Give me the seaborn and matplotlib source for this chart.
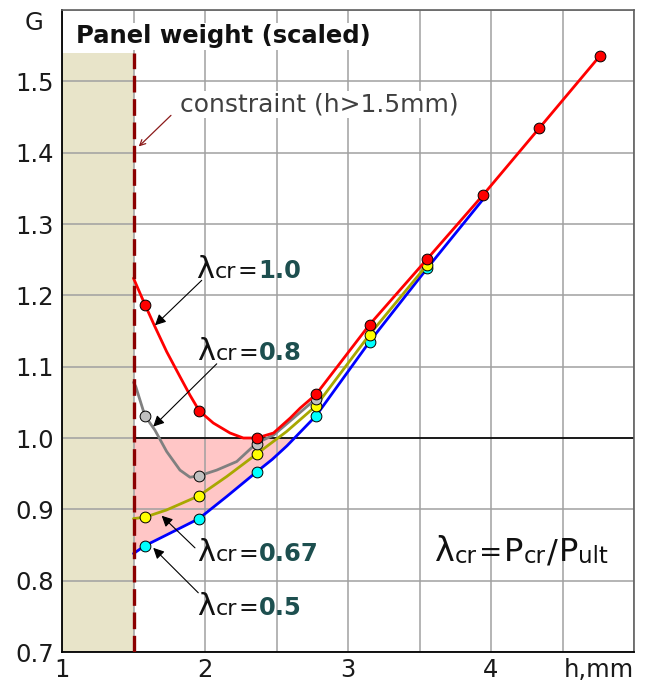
import numpy as np
import matplotlib
matplotlib.use("Agg")
import matplotlib.pyplot as plt
import matplotlib.transforms as mtransforms
import seaborn as sns

# ---------------- data ----------------
# curve lines (h in mm, G scaled)
red_line_x = [1.5, 1.58, 1.65, 1.732, 1.825, 1.895, 1.96, 2.058, 2.175, 2.268, 2.362, 2.479, 2.596, 2.666, 2.776, 3.151, 3.554, 3.946, 4.336, 4.763]
red_line_y = [1.224, 1.187, 1.156, 1.121, 1.086, 1.060, 1.038, 1.021, 1.007, 1.000, 1.0, 1.007, 1.028, 1.042, 1.061, 1.159, 1.251, 1.341, 1.434, 1.536]
gray_line_x = [1.5, 1.516, 1.58, 1.65, 1.732, 1.825, 1.895, 1.96, 2.082, 2.222, 2.362, 2.479, 2.596, 2.776]
gray_line_y = [1.078, 1.072, 1.031, 1.011, 0.981, 0.955, 0.945, 0.947, 0.955, 0.967, 0.993, 1.004, 1.024, 1.055]
olive_line_x = [1.5, 1.58, 1.73, 1.958, 2.152, 2.364, 2.57, 2.776, 3.151, 3.554]
olive_line_y = [0.887, 0.889, 0.899, 0.919, 0.946, 0.978, 1.009, 1.045, 1.145, 1.243]
blue_line_x = [1.5, 1.58, 1.73, 1.958, 2.152, 2.364, 2.47, 2.573, 2.776, 3.151, 3.554, 3.95]
blue_line_y = [0.838, 0.849, 0.864, 0.887, 0.918, 0.953, 0.970, 0.989, 1.031, 1.135, 1.238, 1.336]

# markers
red_pts_x = [1.58, 1.958, 2.364, 2.776, 3.151, 3.554, 3.946, 4.336, 4.763]
red_pts_y = [1.187, 1.038, 1.0, 1.061, 1.159, 1.251, 1.341, 1.434, 1.536]
gray_pts_x = [1.58, 1.958, 2.364, 2.776]
gray_pts_y = [1.031, 0.947, 0.992, 1.055]
yellow_pts_x = [1.58, 1.958, 2.364, 2.776, 3.151, 3.554]
yellow_pts_y = [0.889, 0.919, 0.978, 1.045, 1.145, 1.243]
cyan_pts_x = [1.58, 1.958, 2.364, 2.776, 3.151, 3.554]
cyan_pts_y = [0.849, 0.887, 0.953, 1.031, 1.135, 1.238]

lambda_values = ["1.0", "0.8", "0.67", "0.5"]
x_tick_labels = ["1", "", "2", "", "3", "", "4", "", ""]
y_tick_labels = ["0.7", "0.8", "0.9", "1.0", "1.1", "1.2", "1.3", "1.4", "1.5"]

h_min = 1.5          # constraint
shade_top = 1.54

# ---------------- style ----------------
sns.set_style("white")
FAM = ["DejaVu Sans"]
plt.rcParams["font.family"] = FAM

fig = plt.figure(figsize=(6.47, 6.83), dpi=100)
ax = fig.add_axes([62 / 647, 1 - 652 / 683, (634 - 62) / 647, (652 - 10) / 683])

ax.set_xlim(1, 5)
ax.set_ylim(0.7, 1.6)
ax.set_xticks(np.arange(1, 5.01, 0.5))
ax.set_xticklabels(x_tick_labels)
ax.set_yticks(np.arange(0.7, 1.61, 0.1))
ax.set_yticklabels(y_tick_labels + [""])
ax.tick_params(axis="both", labelsize=17.5, colors="#1a1a1a", length=4, width=1)
ax.tick_params(axis="y", length=0, pad=6)
ax.tick_params(axis="x", length=4, pad=0)
ax.set_axisbelow(True)
ax.grid(True, color="#a0a0a0", lw=1.1, zorder=0.5)
for s in ["left", "bottom"]:
    ax.spines[s].set_color("black")
    ax.spines[s].set_linewidth(1.3)
for s in ["top", "right"]:
    ax.spines[s].set_color("#606060")
    ax.spines[s].set_linewidth(1.2)

# shaded forbidden zone
ax.fill_between([1.0, h_min], 0.7, shade_top, color="#e8e4c9", lw=0, zorder=0.2)

# pink region below G=1
bx = np.array(blue_line_x)
by = np.array(blue_line_y)
ax.fill_between(bx, by, 1.0, where=by <= 1.0, interpolate=True,
                color="#ffc6c6", lw=0, zorder=0.3)

# G = 1 line
ax.plot([h_min, 5], [1.0, 1.0], color="black", lw=1.2, zorder=1)

# constraint line
ax.plot([h_min, h_min], [0.7, shade_top], color="#8b0000", lw=2.4,
        dashes=(5, 2), zorder=6, solid_capstyle="butt")

# curves
series = [
    (blue_line_x, blue_line_y, "#0000ff", cyan_pts_x, cyan_pts_y, "#00ffff"),
    (olive_line_x, olive_line_y, "#a8a800", yellow_pts_x, yellow_pts_y, "#ffff00"),
    (gray_line_x, gray_line_y, "#808080", gray_pts_x, gray_pts_y, "#c0c0c0"),
    (red_line_x, red_line_y, "#ff0000", red_pts_x, red_pts_y, "#ff0000"),
]
z = 2
for lx, ly, lc, px, py, mc in series:
    sns.lineplot(x=lx, y=ly, color=lc, lw=2.0, sort=False, ax=ax, zorder=z)
    sns.scatterplot(x=px, y=py, color=mc, edgecolor="black", linewidth=0.7,
                    s=60, ax=ax, zorder=z + 0.5)
    z += 1

# title & labels
ax.text(1.10, 1.563, "Panel weight (scaled)", fontsize=17.5, fontweight="bold",
        color="#111111", va="center", ha="left", zorder=8,
        bbox=dict(facecolor="white", edgecolor="none", pad=1))
ax.text(1.826, 1.468, "constraint (h>1.5mm)", fontsize=18, color="#404040",
        va="center", ha="left", zorder=8,
        bbox=dict(facecolor="white", edgecolor="none", pad=1))
ax.annotate("", xy=(1.523, 1.406), xytext=(1.776, 1.455),
            arrowprops=dict(arrowstyle="->", color="#8b1a1a", lw=0.9,
                            mutation_scale=10), zorder=8)

ax.text(5.0, 0.7 - 0.009, "h,mm", fontsize=17.5, color="#1a1a1a",
        ha="right", va="top")
fig.text(34 / 647, 1 - 23 / 683, "G", fontsize=17.5, color="#1a1a1a",
         ha="center", va="center")

renderer = fig.canvas.get_renderer()


def chain(x, y, pieces):
    dx = 0.0
    for s, size, weight, color, dy, gap in pieces:
        tr = mtransforms.offset_copy(ax.transData, fig=fig, x=dx, y=dy, units="dots")
        t = ax.text(x, y, s, fontsize=size, fontweight=weight, color=color,
                    transform=tr, va="baseline", ha="left", zorder=9,
                    family=FAM)
        dx += t.get_window_extent(renderer).width + gap


teal = "#1d4f4f"
label_pos = [(1.935, 1.224), (1.942, 1.109), (1.942, 0.827), (1.942, 0.752)]
for (lx, ly), val in zip(label_pos, lambda_values):
    chain(lx, ly, [("λ", 22, "normal", "#111111", 0, 1),
                   ("cr", 16, "normal", "#111111", 0, 1),
                   ("=", 17, "normal", "#111111", 0, 1),
                   (val, 17.5, "bold", teal, 0, 0)])

arrows = [((1.977, 1.221), (1.65, 1.158)),
          ((2.082, 1.104), (1.638, 1.016)),
          ((1.93, 0.846), (1.697, 0.891)),
          ((1.953, 0.783), (1.638, 0.846))]
for tail, head in arrows:
    ax.annotate("", xy=head, xytext=tail,
                arrowprops=dict(arrowstyle="-|>", color="black", lw=0.8,
                                mutation_scale=16, shrinkA=0, shrinkB=0),
                zorder=9)

chain(3.61, 0.827, [("λ", 24, "normal", "#111111", 0, 0),
                    ("cr", 16.5, "normal", "#111111", -2, 2),
                    ("=", 20, "normal", "#111111", 0, 2),
                    ("P", 23, "normal", "#111111", 0, 0),
                    ("cr", 16.5, "normal", "#111111", -2, 1),
                    ("/", 23, "normal", "#111111", 0, 1),
                    ("P", 23, "normal", "#111111", 0, 0),
                    ("ult", 16.5, "normal", "#111111", -2, 0)])

fig.savefig("out.png", dpi=100)
